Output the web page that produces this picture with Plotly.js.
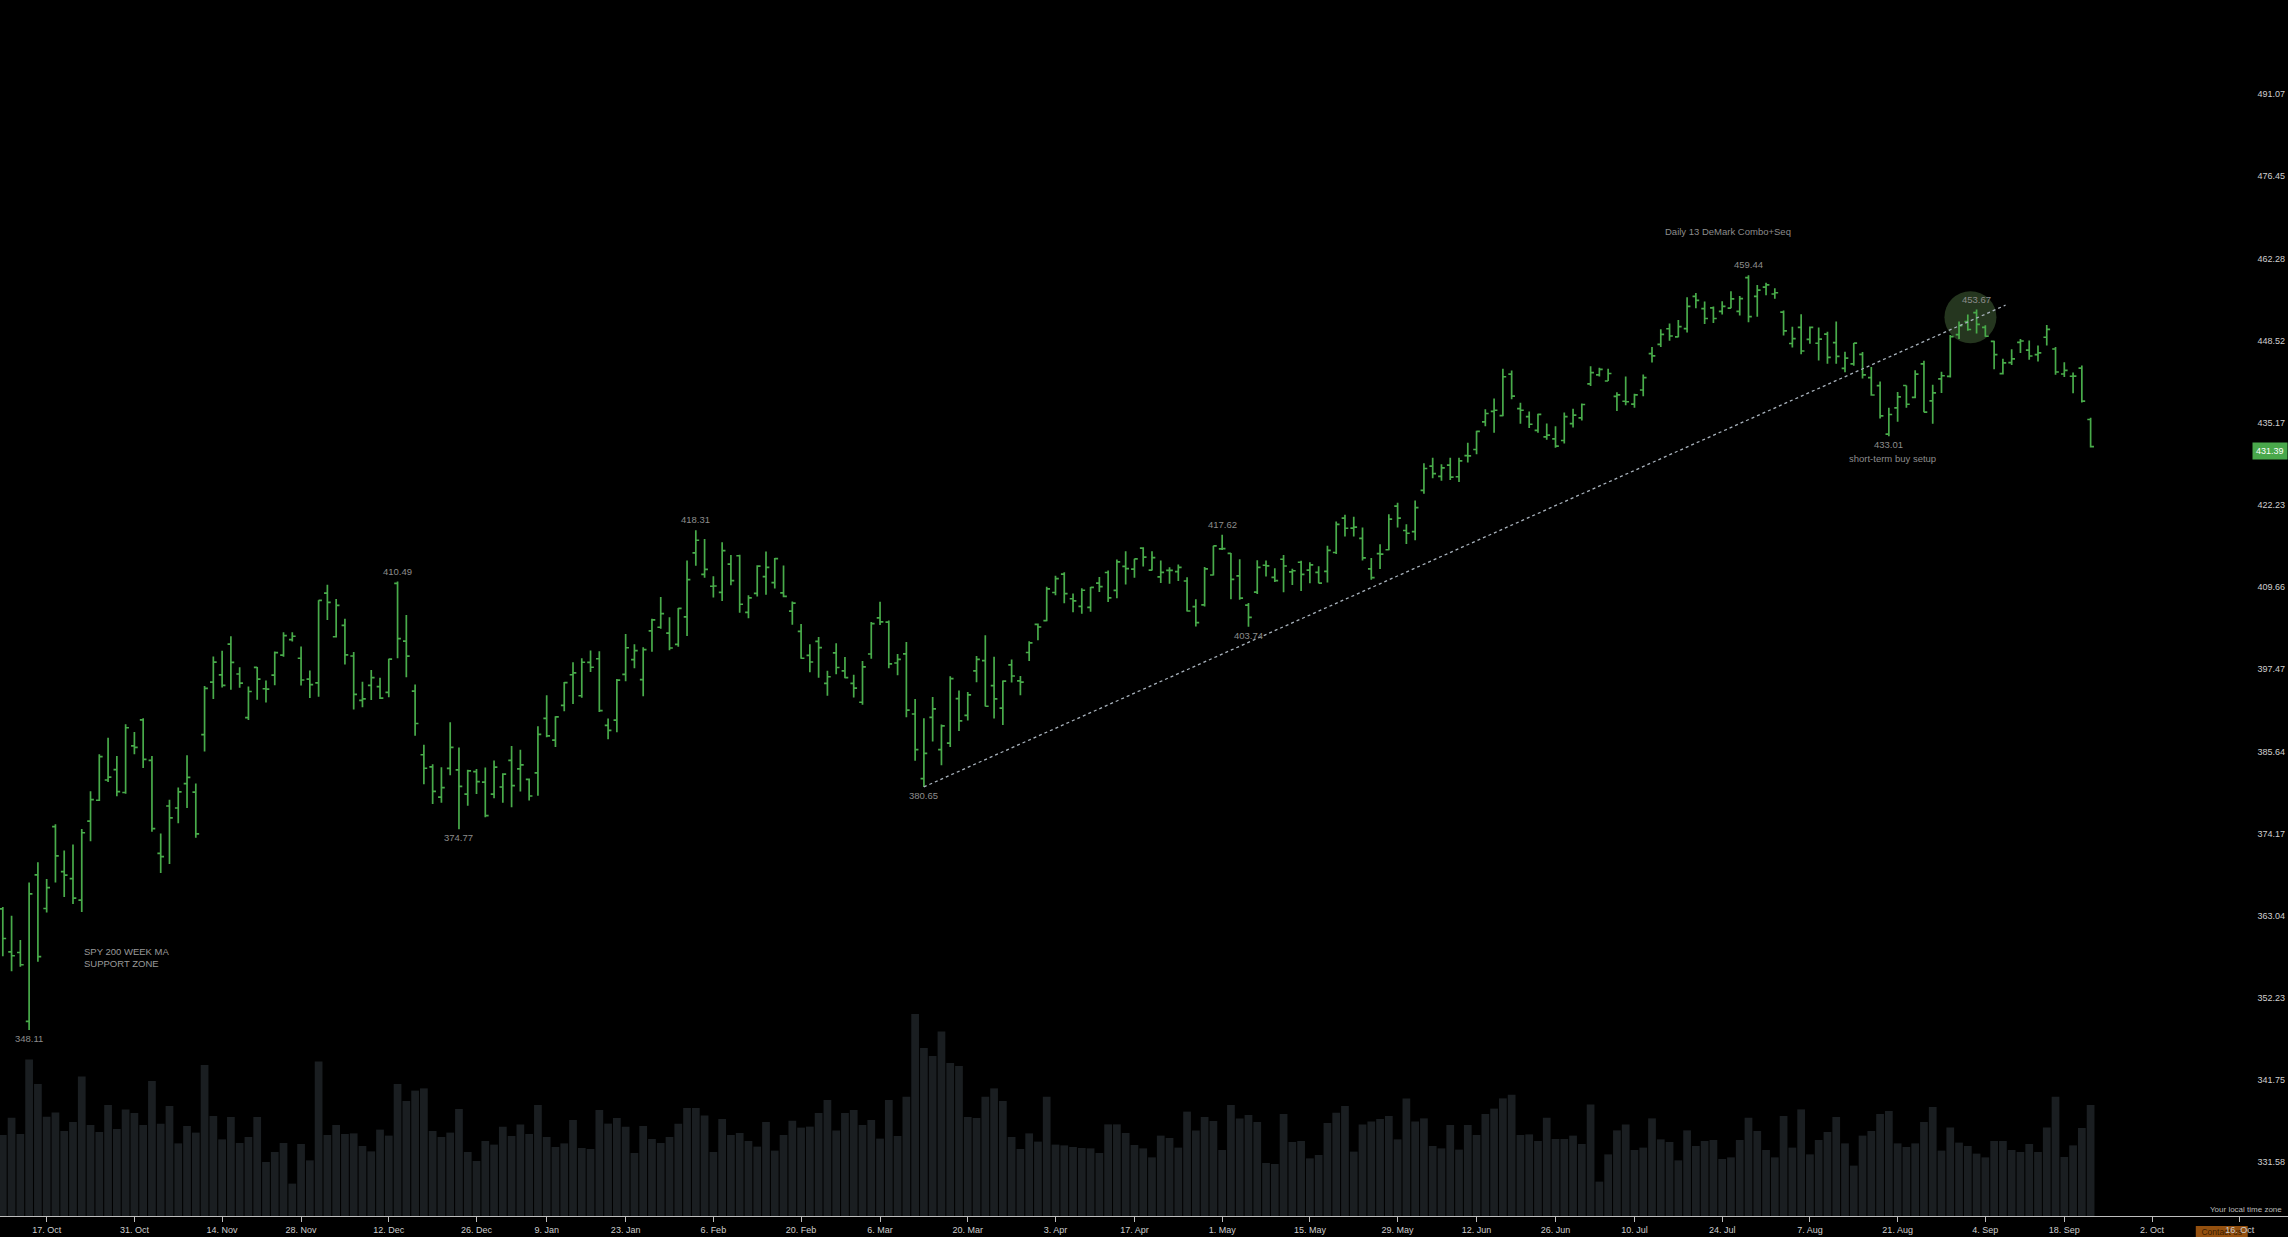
<!DOCTYPE html>
<html><head><meta charset="utf-8">
<script src="https://cdn.plot.ly/plotly-3.0.1.min.js"></script>
<style>html,body{margin:0;padding:0;background:#000;overflow:hidden}#chart{width:2288px;height:1237px}</style>
</head><body><div id="chart"></div>
<script>
const dates = [
"2022-10-10","2022-10-11","2022-10-12","2022-10-13","2022-10-14",
"2022-10-17","2022-10-18","2022-10-19","2022-10-20","2022-10-21",
"2022-10-24","2022-10-25","2022-10-26","2022-10-27","2022-10-28",
"2022-10-31","2022-11-01","2022-11-02","2022-11-03","2022-11-04",
"2022-11-07","2022-11-08","2022-11-09","2022-11-10","2022-11-11",
"2022-11-14","2022-11-15","2022-11-16","2022-11-17","2022-11-18",
"2022-11-21","2022-11-22","2022-11-23","2022-11-25",
"2022-11-28","2022-11-29","2022-11-30","2022-12-01","2022-12-02",
"2022-12-05","2022-12-06","2022-12-07","2022-12-08","2022-12-09",
"2022-12-12","2022-12-13","2022-12-14","2022-12-15","2022-12-16",
"2022-12-19","2022-12-20","2022-12-21","2022-12-22","2022-12-23",
"2022-12-27","2022-12-28","2022-12-29","2022-12-30",
"2023-01-03","2023-01-04","2023-01-05","2023-01-06",
"2023-01-09","2023-01-10","2023-01-11","2023-01-12","2023-01-13",
"2023-01-17","2023-01-18","2023-01-19","2023-01-20",
"2023-01-23","2023-01-24","2023-01-25","2023-01-26","2023-01-27",
"2023-01-30","2023-01-31","2023-02-01","2023-02-02","2023-02-03",
"2023-02-06","2023-02-07","2023-02-08","2023-02-09","2023-02-10",
"2023-02-13","2023-02-14","2023-02-15","2023-02-16","2023-02-17",
"2023-02-21","2023-02-22","2023-02-23","2023-02-24",
"2023-02-27","2023-02-28","2023-03-01","2023-03-02","2023-03-03",
"2023-03-06","2023-03-07","2023-03-08","2023-03-09","2023-03-10",
"2023-03-13","2023-03-14","2023-03-15","2023-03-16","2023-03-17",
"2023-03-20","2023-03-21","2023-03-22","2023-03-23","2023-03-24",
"2023-03-27","2023-03-28","2023-03-29","2023-03-30","2023-03-31",
"2023-04-03","2023-04-04","2023-04-05","2023-04-06",
"2023-04-10","2023-04-11","2023-04-12","2023-04-13","2023-04-14",
"2023-04-17","2023-04-18","2023-04-19","2023-04-20","2023-04-21",
"2023-04-24","2023-04-25","2023-04-26","2023-04-27","2023-04-28",
"2023-05-01","2023-05-02","2023-05-03","2023-05-04","2023-05-05",
"2023-05-08","2023-05-09","2023-05-10","2023-05-11","2023-05-12",
"2023-05-15","2023-05-16","2023-05-17","2023-05-18","2023-05-19",
"2023-05-22","2023-05-23","2023-05-24","2023-05-25","2023-05-26",
"2023-05-30","2023-05-31","2023-06-01","2023-06-02",
"2023-06-05","2023-06-06","2023-06-07","2023-06-08","2023-06-09",
"2023-06-12","2023-06-13","2023-06-14","2023-06-15","2023-06-16",
"2023-06-20","2023-06-21","2023-06-22","2023-06-23",
"2023-06-26","2023-06-27","2023-06-28","2023-06-29","2023-06-30",
"2023-07-03","2023-07-05","2023-07-06","2023-07-07",
"2023-07-10","2023-07-11","2023-07-12","2023-07-13","2023-07-14",
"2023-07-17","2023-07-18","2023-07-19","2023-07-20","2023-07-21",
"2023-07-24","2023-07-25","2023-07-26","2023-07-27","2023-07-28",
"2023-07-31","2023-08-01","2023-08-02","2023-08-03","2023-08-04",
"2023-08-07","2023-08-08","2023-08-09","2023-08-10","2023-08-11",
"2023-08-14","2023-08-15","2023-08-16","2023-08-17","2023-08-18",
"2023-08-21","2023-08-22","2023-08-23","2023-08-24","2023-08-25",
"2023-08-28","2023-08-29","2023-08-30","2023-08-31","2023-09-01",
"2023-09-05","2023-09-06","2023-09-07","2023-09-08",
"2023-09-11","2023-09-12","2023-09-13","2023-09-14","2023-09-15",
"2023-09-18","2023-09-19","2023-09-20","2023-09-21"
];

const opens = [
363.96,358.24,358.17,349.21,368.55,364.01,375.13,368.99,368.03,365.12,
375.89,378.79,381.62,383.07,379.87,386.44,390.14,384.37,371.45,377.99,
377.71,381.11,379.93,388.05,395.59,396.66,401.15,396.78,390.46,397.74,
394.64,396.63,399.55,401.83,399.09,396.05,395.49,408.77,402.25,403.95,
399.42,392.94,395.14,394.94,394.11,410.22,401.61,394.30,385.18,383.47,
379.23,383.25,383.05,379.65,382.79,381.33,379.63,380.64,384.37,383.18,
381.72,382.61,390.37,387.25,392.23,396.67,393.62,398.48,399.01,389.36,
390.10,396.72,398.88,395.95,403.13,403.66,402.80,401.13,405.21,414.86,
411.59,409.79,408.87,413.13,414.41,405.86,408.72,411.24,410.35,408.79,
406.06,403.06,399.52,401.56,395.42,399.87,397.23,395.41,392.68,399.71,
405.05,404.42,398.39,399.74,390.99,381.81,390.50,385.89,386.82,393.22,
390.80,397.24,398.73,395.09,391.84,398.12,395.77,399.93,404.10,404.66,
408.85,411.62,407.91,406.77,406.61,410.26,411.87,409.18,412.81,412.37,
415.58,412.22,411.21,412.19,411.99,410.58,406.72,407.00,411.49,415.47,
414.77,411.36,406.95,408.91,412.97,411.13,413.88,411.95,413.42,412.22,
411.88,412.03,414.91,420.17,418.64,417.08,412.42,414.74,415.33,422.03,
418.28,418.09,424.50,428.28,426.67,428.44,426.62,429.96,430.92,435.32,
437.01,436.33,443.02,437.45,436.16,433.95,432.93,432.62,432.35,435.05,
435.96,441.44,442.92,441.91,439.42,438.63,438.18,440.45,446.39,447.90,
450.48,449.13,450.50,455.88,453.83,453.96,453.37,453.92,453.37,459.02,
455.88,457.41,456.27,453.25,448.04,450.72,448.71,448.08,449.59,448.19,
443.97,444.70,446.27,442.46,441.16,433.37,437.55,441.18,439.25,444.69,
438.68,442.24,442.65,449.51,451.65,453.17,450.70,448.40,443.11,444.90,
448.24,446.95,446.22,449.07,447.14,443.05,442.68,444.01,435.70
];
const highs = [
364.21,363.03,359.82,367.51,370.26,367.98,375.45,371.85,372.67,374.80,
380.06,385.25,387.58,385.00,389.52,388.40,390.39,385.00,374.20,378.87,
380.57,385.12,381.14,395.04,399.35,400.18,402.31,397.78,394.95,397.81,
395.82,400.07,402.93,402.91,400.81,397.30,407.68,410.00,407.86,404.93,
399.99,395.64,397.36,396.25,399.00,410.49,405.50,395.25,386.58,383.82,
383.40,389.82,386.21,383.06,383.15,383.39,384.35,382.58,386.43,385.88,
381.84,389.25,393.70,390.65,395.60,398.49,399.10,400.23,400.12,390.36,
396.04,402.65,401.15,400.70,404.92,408.16,405.13,406.53,413.67,418.31,
416.97,411.29,416.49,414.53,414.57,408.44,412.97,415.05,414.06,412.91,
407.51,404.16,401.13,402.20,397.25,401.29,399.28,396.69,398.69,404.45,
407.45,404.67,399.71,401.48,393.16,390.39,393.45,389.49,396.47,394.40,
394.17,399.41,402.49,399.29,395.84,398.92,396.49,401.60,404.20,409.70,
411.37,411.92,408.70,409.48,409.69,411.18,412.17,413.84,415.09,413.96,
415.72,415.08,413.70,412.68,413.07,411.16,407.84,412.69,415.94,417.62,
414.82,413.87,407.27,413.72,413.68,412.50,414.54,412.43,413.64,413.43,
412.82,415.93,419.67,420.72,420.39,418.72,414.06,416.16,420.77,422.58,
419.22,422.92,428.74,429.62,428.58,429.62,429.60,431.99,433.88,437.33,
439.06,443.90,443.61,438.37,436.99,436.62,435.06,434.61,436.81,437.44,
438.28,444.30,444.08,443.89,440.10,442.64,439.84,442.97,447.48,450.38,
451.36,451.93,455.73,456.43,455.00,454.17,455.04,456.74,455.95,459.44,
457.78,458.16,457.25,453.52,450.79,452.89,450.87,450.70,449.97,451.70,
446.70,448.11,446.64,444.18,441.82,437.57,440.11,441.18,443.67,445.22,
441.30,443.40,449.45,451.67,452.83,453.67,451.06,448.51,445.55,447.11,
448.77,448.53,447.71,451.08,447.48,444.97,443.29,444.44,435.97
];
const lows = [
357.67,355.71,356.30,348.11,356.96,363.47,367.52,365.55,364.61,363.54,
373.11,378.67,381.35,379.33,379.68,385.26,383.29,374.42,368.79,370.00,
375.60,377.72,373.61,385.64,393.15,394.83,394.49,394.79,390.14,393.04,
392.66,395.15,399.31,401.54,395.11,393.30,393.48,404.75,402.14,398.17,
391.64,391.97,393.00,393.15,393.40,399.07,396.31,387.89,381.04,378.28,
378.43,382.28,374.77,378.03,379.65,376.42,379.08,378.43,377.83,380.00,
378.76,379.41,387.67,386.27,391.38,392.42,393.34,397.06,391.28,387.39,
388.38,395.72,397.64,393.56,400.03,403.44,400.28,400.77,402.35,412.88,
411.09,408.10,407.57,409.93,405.81,405.01,408.24,408.51,409.47,408.14,
404.05,399.03,397.02,396.25,393.64,396.75,396.15,393.38,392.33,399.03,
404.01,397.63,396.59,390.53,384.32,380.65,387.05,383.71,386.29,388.55,
390.07,395.58,392.07,390.35,389.40,395.56,393.69,398.68,401.75,404.55,
408.44,407.24,405.88,405.68,405.97,408.93,407.44,407.99,410.06,411.08,
412.78,412.16,410.27,410.17,410.60,406.02,403.78,406.74,411.43,415.27,
407.82,407.77,403.74,408.64,411.27,410.44,408.87,409.97,409.07,410.23,
410.24,410.36,414.67,417.35,417.35,413.68,410.77,412.41,415.25,418.74,
416.22,416.79,423.95,426.37,425.99,426.11,425.82,428.87,430.17,434.63,
433.59,436.23,438.97,435.03,434.33,433.60,432.47,431.19,431.88,434.41,
435.54,441.11,442.63,441.90,437.06,437.97,437.59,439.44,444.91,447.45,
448.49,449.08,449.86,453.89,451.25,451.44,452.83,453.87,452.68,451.55,
452.49,456.05,455.49,449.35,447.37,446.27,447.99,445.27,444.73,444.70,
443.35,444.38,442.30,439.53,435.84,433.01,435.32,437.57,439.10,436.86,
435.00,439.97,442.46,448.78,450.16,449.68,449.17,443.81,442.97,444.53,
446.47,445.39,445.08,447.71,442.92,442.56,439.94,438.43,431.23
];
const closes = [
360.02,357.74,356.56,365.97,357.63,366.82,371.13,368.50,365.41,374.29,
378.87,384.92,382.02,379.98,389.02,386.21,384.52,374.87,371.01,376.35,
379.95,382.00,374.13,394.69,398.51,395.12,398.49,395.45,394.24,396.03,
394.59,399.90,402.42,402.33,395.91,395.23,407.68,407.38,406.91,399.59,
393.83,393.16,396.24,393.28,398.95,401.97,399.40,389.63,383.27,380.02,
380.54,386.23,380.72,382.91,381.40,376.66,383.44,382.43,380.82,383.76,
379.38,388.08,387.86,390.58,395.52,396.96,398.50,397.77,391.49,388.64,
395.88,400.63,400.20,400.35,404.75,405.68,400.59,406.48,410.80,416.78,
412.35,409.83,415.19,410.65,407.09,408.04,412.83,412.64,413.98,408.28,
407.26,399.09,398.54,400.66,396.38,397.73,396.26,394.74,397.81,404.19,
404.47,398.27,398.92,391.56,385.91,385.36,391.73,389.28,396.11,389.99,
393.74,398.91,392.11,393.17,395.75,396.49,395.60,401.35,403.70,409.39,
410.95,408.67,407.60,409.19,409.61,409.72,408.05,413.47,412.46,413.94,
414.21,414.14,411.88,412.20,412.63,406.08,404.36,412.41,415.93,415.51,
410.84,408.02,405.13,412.63,412.87,410.65,412.85,412.13,411.59,413.01,
410.25,415.22,419.23,418.62,418.79,414.09,411.09,414.65,420.02,420.18,
417.85,421.82,427.92,427.10,428.03,426.55,429.13,429.90,433.80,436.66,
437.18,442.60,439.46,437.18,434.94,436.51,433.21,431.44,436.17,436.39,
438.11,443.28,443.79,443.13,439.66,438.55,439.66,442.46,446.02,449.56,
449.28,450.84,454.19,455.20,452.18,452.18,454.20,455.44,455.51,452.49,
456.92,457.79,456.48,450.13,448.84,446.81,450.71,448.75,445.75,445.91,
445.65,448.11,442.89,439.64,436.29,436.50,439.34,438.15,443.03,436.89,
439.97,442.76,449.16,451.01,450.35,451.19,449.24,446.22,444.85,445.52,
448.45,445.99,446.51,450.36,443.37,443.63,442.71,438.64,431.39
];
const volumes = [
64.8,78.7,65.6,125.3,105.6,79.5,82.9,68.0,75.2,111.7,
72.8,67.2,88.8,69.6,85.3,82.4,72.8,108.0,73.9,88.0,
58.1,72.0,66.7,120.8,80.0,61.3,79.2,58.4,63.2,79.2,
43.2,51.2,58.4,25.9,57.6,44.5,123.7,64.8,72.8,65.6,
66.1,56.0,51.7,69.1,64.3,105.6,92.0,100.3,102.1,68.0,
63.2,66.7,85.6,51.2,44.0,60.0,57.1,71.5,64.0,73.3,
65.6,88.8,63.2,55.2,58.1,76.8,54.4,53.6,84.8,73.9,
78.4,71.5,50.4,72.0,61.6,58.4,63.2,73.9,86.4,86.4,
80.5,51.2,77.6,64.8,66.4,60.0,55.5,75.2,52.3,64.8,
76.3,70.7,71.5,82.4,92.8,68.5,82.4,84.8,72.8,76.8,
61.9,92.8,64.0,95.5,161.6,134.4,128.0,147.7,122.4,120.0,
79.2,78.4,95.5,102.1,92.0,63.2,53.6,66.1,59.5,95.5,
57.1,56.5,55.2,54.4,54.1,50.4,73.3,73.3,66.4,56.8,
54.1,46.9,64.3,62.4,54.7,83.5,68.5,79.2,76.0,52.8,
88.8,78.1,80.8,75.2,42.4,41.6,81.6,59.2,60.0,46.1,
48.8,74.4,82.7,88.0,51.5,73.3,75.7,77.6,80.0,61.3,
94.1,75.7,78.1,56.0,54.1,72.8,53.1,72.8,64.8,81.6,
85.9,94.1,97.1,64.8,65.3,60.0,78.7,61.6,61.6,64.3,
57.6,89.3,27.5,49.3,68.5,73.3,52.8,54.7,78.1,61.3,
59.2,44.5,68.5,56.0,60.0,60.8,45.6,46.9,60.8,78.7,
68.0,52.8,46.9,80.0,54.7,85.3,49.3,60.8,67.2,79.2,
58.1,40.3,64.3,68.0,81.6,84.0,58.1,55.2,58.1,75.2,
87.2,52.3,70.9,58.7,56.0,49.9,46.9,60.0,60.0,52.8,
51.2,57.6,51.2,70.9,95.5,47.2,56.5,70.4,88.8
];

const priceTicks = [331.58,341.75,352.23,363.04,374.17,385.64,397.47,409.66,422.23,435.17,448.52,462.28,476.45,491.07];
const tickDates = ["2022-10-17","2022-10-31","2022-11-14","2022-11-28","2022-12-12","2022-12-26","2023-01-09","2023-01-23","2023-02-06","2023-02-20","2023-03-06","2023-03-20","2023-04-03","2023-04-17","2023-05-01","2023-05-15","2023-05-29","2023-06-12","2023-06-26","2023-07-10","2023-07-24","2023-08-07","2023-08-21","2023-09-04","2023-09-18","2023-10-02","2023-10-16"];
const tickLabels = ["17. Oct","31. Oct","14. Nov","28. Nov","12. Dec","26. Dec","9. Jan","23. Jan","6. Feb","20. Feb","6. Mar","20. Mar","3. Apr","17. Apr","1. May","15. May","29. May","12. Jun","26. Jun","10. Jul","24. Jul","7. Aug","21. Aug","4. Sep","18. Sep","2. Oct","16. Oct"];

// ordinal (trading-day) positions
const xs = dates.map((d, i) => i);
function indexOfDate(d) {
  for (let i = 0; i < dates.length; i++) if (dates[i] >= d) return i;
  let t = new Date(dates[dates.length - 1] + "T00:00:00Z");
  const end = new Date(d + "T00:00:00Z");
  let n = dates.length - 1;
  while (t < end) {
    t = new Date(t.getTime() + 86400000);
    const wd = t.getUTCDay();
    if (wd !== 0 && wd !== 6) n++;
  }
  return n;
}
const tickPos = tickDates.map(indexOfDate);

const GREEN = "#48ab4a";
const FONT = "Liberation Sans, Arial, sans-serif";
const LABEL = "#8c8c8c";
const PRICE_RANGE = [2.51202, 2.70616];

const iStart = indexOfDate("2023-03-13");
const traces = [
  {type: "bar", x: xs, y: volumes, xaxis: "x", yaxis: "y",
   marker: {color: "#1a1e21", line: {width: 0}}, hoverinfo: "skip"},
  // highlight circle (drawn beneath the bars)
  {type: "scatter", mode: "markers", xaxis: "x", yaxis: "y2",
   x: [indexOfDate("2023-09-01") - 0.7], y: [452.4],
   marker: {size: 52, color: "#25361f", line: {width: 0}}, hoverinfo: "skip"},
  {type: "ohlc", x: xs, open: opens, high: highs, low: lows, close: closes,
   xaxis: "x", yaxis: "y3", tickwidth: 0.38,
   increasing: {line: {color: GREEN, width: 1.7}},
   decreasing: {line: {color: GREEN, width: 1.7}}, hoverinfo: "skip"},
  {type: "scatter", mode: "lines", xaxis: "x", yaxis: "y3",
   x: [iStart, indexOfDate("2023-09-07") + 0.3], y: [lows[iStart], 454.4],
   line: {color: "#a8b2bc", width: 1.3, dash: "dot"}, hoverinfo: "skip"}
];

function priceLabel(date, arr, pos) {
  const i = indexOfDate(date);
  const v = arr[i];
  return {xref: "x", yref: "y3", x: i, y: Math.log10(v), text: v.toFixed(2),
    showarrow: false, yanchor: pos === "above" ? "bottom" : "top",
    yshift: pos === "above" ? 3 : -1, font: {size: 9.5, color: LABEL, family: FONT}};
}
const annotations = [
  priceLabel("2022-10-13", lows, "below"),
  priceLabel("2022-12-13", highs, "above"),
  priceLabel("2022-12-22", lows, "below"),
  priceLabel("2023-02-02", highs, "above"),
  priceLabel("2023-03-13", lows, "below"),
  priceLabel("2023-05-01", highs, "above"),
  priceLabel("2023-05-04", lows, "below"),
  priceLabel("2023-07-27", highs, "above"),
  priceLabel("2023-09-01", highs, "above"),
  priceLabel("2023-08-18", lows, "below"),
  {xref: "x", yref: "y3", x: indexOfDate("2023-08-18"), y: Math.log10(lows[indexOfDate("2023-08-18")]),
   text: "short-term buy setup", showarrow: false, yanchor: "top", yshift: -15, xshift: 4,
   font: {size: 9.5, color: LABEL, family: FONT}},
  {xref: "x", yref: "y3", x: indexOfDate("2023-07-27"), y: Math.log10(highs[indexOfDate("2023-07-27")]),
   text: "Daily 13 DeMark Combo+Seq", showarrow: false, yanchor: "bottom", yshift: 36, xshift: -21,
   font: {size: 9.5, color: LABEL, family: FONT}},
  {xref: "x", yref: "y3", x: indexOfDate("2022-10-21"), y: Math.log10(357.5),
   text: "SPY 200 WEEK MA<br>SUPPORT ZONE", showarrow: false, xanchor: "left", align: "left",
   font: {size: 9.5, color: "#999999", family: FONT}},
  {xref: "paper", yref: "y3", x: 1, y: Math.log10(closes[closes.length - 1]), yshift: -4,
   text: closes[closes.length - 1].toFixed(2), showarrow: false, xanchor: "right", yanchor: "middle",
   bgcolor: "#49a84b", borderpad: 3, font: {size: 9, color: "#ffffff", family: FONT}},
  {xref: "paper", yref: "paper", x: 1, y: 0, xshift: -4, xanchor: "right", yanchor: "bottom",
   text: "Your local time zone", showarrow: false, font: {size: 8, color: "#bbbbbb", family: FONT}}
];

const shapes = [
  {type: "rect", xref: "paper", yref: "paper", layer: "below",
   x0: 0.9597, x1: 0.9824, y0: -0.0214, y1: -0.0082,
   fillcolor: "#94500f", line: {width: 0},
   label: {text: "Contact us", font: {size: 8.5, color: "#3a1c00", family: FONT}, textposition: "top center", padding: 1}}
];

const layout = {
  width: 2288, height: 1237,
  paper_bgcolor: "#000000", plot_bgcolor: "#000000",
  margin: {l: 0, r: 0, t: 0, b: 21},
  showlegend: false, hovermode: false, bargap: 0.12,
  font: {family: FONT, color: "#cccccc", size: 9},
  xaxis: {range: [-0.32, 260.5], tickmode: "array", tickvals: tickPos, ticktext: tickLabels,
    showgrid: false, zeroline: false, showline: true, linecolor: "#bdbdbd", linewidth: 1,
    ticks: "outside", ticklen: 5, tickcolor: "#bdbdbd", tickfont: {size: 9, color: "#cccccc", family: FONT},
    rangeslider: {visible: false}, fixedrange: true, anchor: "y"},
  yaxis: {range: [0, 972.8], showgrid: false, zeroline: false, showline: false,
    showticklabels: false, ticks: "", fixedrange: true},
  yaxis2: {type: "log", range: PRICE_RANGE, overlaying: "y", side: "right",
    tickmode: "array", tickvals: priceTicks, ticktext: priceTicks.map(v => v.toFixed(2)),
    ticklabelposition: "inside", showgrid: false, zeroline: false, showline: false, ticks: "",
    tickfont: {size: 9, color: "#cfcfcf", family: FONT}, fixedrange: true},
  yaxis3: {type: "log", range: PRICE_RANGE, overlaying: "y", side: "right",
    showticklabels: false, showgrid: false, zeroline: false, showline: false, ticks: "", fixedrange: true},
  annotations: annotations,
  shapes: shapes
};

Plotly.newPlot("chart", traces, layout, {displayModeBar: false, staticPlot: true});
</script>
</body></html>
